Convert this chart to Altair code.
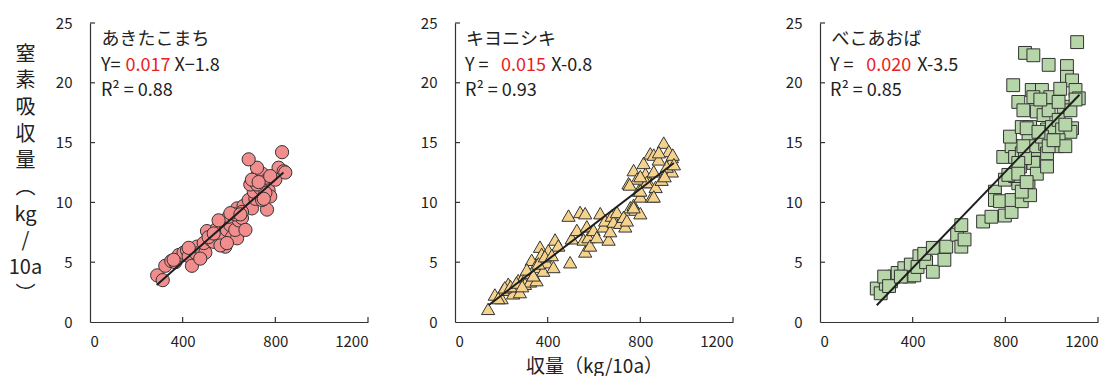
import altair as alt
import pandas as pd

# ---------------- data ----------------
akita_x = [290, 314, 325, 351, 368, 383, 404, 419, 426, 440, 455, 462, 484, 498, 491, 505, 519, 534,
           548, 570, 584, 563, 577, 591, 606, 613, 635, 627, 642, 656, 635, 663, 685, 699, 714, 728,
           707, 692, 721, 743, 750, 764, 771, 778, 764, 743, 721, 685, 814, 836, 829, 800, 671, 599,
           555, 627, 656, 735, 757, 721, 750, 512, 534, 606, 649, 591, 476, 361, 426, 699, 728, 778, 843]
akita_y = [3.9, 3.5, 4.7, 5.1, 5.0, 5.6, 5.8, 6.0, 5.5, 4.7, 5.8, 6.3, 6.0, 5.8, 6.6, 7.6, 6.9, 6.7,
           7.8, 7.1, 6.3, 6.4, 8.3, 7.7, 8.1, 7.1, 7.0, 7.7, 8.5, 8.7, 9.5, 9.7, 10.2, 9.5, 10.3, 10.8,
           10.9, 11.5, 12.2, 12.4, 11.6, 11.9, 11.0, 10.5, 9.4, 10.2, 12.9, 13.6, 12.9, 12.6, 14.2, 11.9, 7.7, 8.8,
           8.5, 9.0, 9.2, 11.2, 10.8, 11.5, 10.3, 7.1, 7.4, 9.1, 9.0, 6.6, 5.3, 5.2, 6.2, 11.9, 11.7, 12.2, 12.5]

kiyo_x = [143, 172, 201, 208, 230, 251, 259, 273, 280, 295, 302, 316, 324, 331, 345, 352, 367, 374,
          381, 403, 396, 425, 432, 446, 490, 497, 504, 526, 540, 555, 562, 562, 569, 576, 583, 598,
          612, 627, 641, 648, 663, 670, 677, 684, 699, 713, 728, 735, 742, 757, 771, 778, 800, 800,
          749, 771, 786, 793, 814, 822, 836, 843, 850, 901, 858, 923, 936, 930, 936, 858, 827, 866,
          858, 771, 892, 914, 879, 800, 754, 800, 187, 215, 240, 265, 290, 310, 338, 360, 388, 418,
          940, 945, 905, 880]
kiyo_y = [1.1, 2.3, 2.0, 2.7, 3.2, 2.4, 3.0, 3.5, 2.5, 3.8, 3.2, 4.1, 3.4, 5.2, 4.6, 3.5, 6.3, 5.7,
          4.3, 6.0, 5.0, 4.6, 6.9, 6.4, 8.9, 5.0, 7.0, 7.7, 9.2, 6.9, 9.1, 5.9, 8.0, 7.1, 6.4, 7.7,
          7.1, 9.1, 8.0, 8.5, 6.9, 7.6, 8.9, 8.4, 9.2, 8.3, 8.8, 8.0, 8.5, 9.6, 9.8, 9.4, 9.1, 10.5,
          11.6, 12.7, 12.0, 11.0, 13.3, 12.4, 11.7, 14.1, 10.5, 15.0, 14.0, 14.3, 13.8, 13.3, 12.6, 12.6, 11.7, 11.3,
          10.5, 9.6, 11.9, 13.0, 13.6, 12.2, 11.5, 11.0, 2.0, 2.9, 3.0, 3.3, 3.0, 4.4, 3.9, 4.9, 5.5, 5.6,
          14.0, 13.2, 12.2, 14.2]

beko_x = [245, 262, 284, 306, 320, 335, 364, 385, 407, 392, 429, 421, 458, 450, 487, 487, 537, 545,
          277, 298, 349, 592, 610, 610, 624, 704, 740, 755, 755, 777, 798, 827, 827, 871, 856, 900,
          907, 798, 791, 827, 820, 842, 863, 871, 871, 856, 834, 885, 921, 987, 1110, 914, 958, 921,
          936, 907, 900, 929, 921, 936, 929, 965, 980, 972, 980, 980, 994, 987, 1001, 1023, 1030, 1045,
          1066, 1066, 1088, 1103, 1117, 1037, 1052, 1081, 1088, 1081, 1030, 1059, 958, 892, 878, 951,
          1030, 943, 885, 856, 842, 813, 878, 987, 1008, 1059, 1103, 856, 871, 892]
beko_y = [2.8, 2.4, 3.2, 3.4, 3.8, 4.1, 4.5, 3.8, 3.9, 4.8, 5.5, 4.6, 5.0, 5.7, 4.2, 6.2, 5.2, 6.3,
          3.8, 3.0, 3.8, 7.3, 8.1, 6.3, 6.9, 8.4, 8.8, 10.9, 10.2, 10.1, 8.9, 9.2, 10.2, 10.1, 11.6, 11.3,
          10.6, 11.9, 13.8, 14.7, 15.5, 13.8, 13.0, 14.1, 16.3, 18.4, 19.8, 22.5, 22.3, 21.5, 23.4, 19.4, 19.4, 18.8,
          17.6, 16.3, 15.2, 14.4, 13.3, 12.4, 14.7, 17.3, 16.1, 14.9, 14.1, 13.0, 18.8, 17.7, 16.3, 14.7, 16.9, 16.1,
          21.4, 20.5, 20.2, 19.4, 18.7, 19.5, 18.0, 17.7, 16.2, 15.9, 15.2, 14.7, 15.5, 16.2, 17.7, 18.6,
          18.4, 15.9, 13.7, 13.3, 12.2, 12.3, 14.7, 14.7, 15.2, 16.5, 18.6, 12.4, 10.9, 11.7]

akita_line_x = [288, 835]
akita_line_y = [3.1, 12.5]
kiyo_line_x = [145, 945]
kiyo_line_y = [1.4, 13.3]
beko_line_x = [245, 1120]
beko_line_y = [1.4, 19.0]

x_labels = [0, 400, 800, 1200]
y_labels = [0, 5, 10, 15, 20, 25]
x_ticks = [400, 800, 1200]
y_ticks = [5, 10, 15, 20, 25]

# ---------------- style ----------------
W, H = 278, 299
FONT = "Noto Sans CJK JP"
RED = "#e8231f"

xs = alt.Scale(domain=[0, 1200], nice=False, zero=False)
ys = alt.Scale(domain=[0, 25], nice=False, zero=False)


def panel(px, py, lx, ly, shape, fill, size, ann, y_title=None, x_title=None):
    pts = pd.DataFrame({"x": px, "y": py})
    ln = pd.DataFrame({"x": lx, "y": ly})

    xaxis_kw = dict(values=x_labels, format="d", ticks=False, tickSize=0, grid=False, domainColor="#333",
                    domainWidth=1.2, labelFont=FONT, labelFontSize=15, labelColor="#222",
                    labelPadding=12, labelOverlap=False)
    yaxis_kw = dict(values=y_labels, format="d", ticks=False, tickSize=0, grid=False, domainColor="#333",
                    domainWidth=1.2, labelFont=FONT, labelFontSize=15, labelColor="#222",
                    labelPadding=18, labelOverlap=False)
    if x_title:
        xaxis_kw.update(title=x_title, titleFont=FONT, titleFontSize=19, titleFontWeight="normal",
                        titleColor="#222", titleBaseline="middle", titleY=44)
    else:
        xaxis_kw.update(title=None)
    if y_title:
        yaxis_kw.update(title=y_title, titleFont=FONT, titleFontSize=20, titleFontWeight="normal",
                        titleColor="#222", titleAngle=0, titleAlign="center", titleBaseline="top",
                        titleX=-65, titleY=21, titleLineHeight=26.7)
    else:
        yaxis_kw.update(title=None)

    base_x = alt.X("x:Q", scale=xs, axis=alt.Axis(**xaxis_kw))
    base_y = alt.Y("y:Q", scale=ys, axis=alt.Axis(**yaxis_kw))

    points = alt.Chart(pts).mark_point(shape=shape, filled=True, fill=fill, stroke="#333",
                                        strokeWidth=1, size=size, opacity=1).encode(x=base_x, y=base_y)
    line = alt.Chart(ln).mark_line(color="#1e1e1e", strokeWidth=2).encode(
        x=alt.X("x:Q", scale=xs), y=alt.Y("y:Q", scale=ys))

    xt = alt.Chart(pd.DataFrame({"x": x_ticks})).mark_rule(color="#333", strokeWidth=1.2).encode(
        x=alt.X("x:Q", scale=xs), y=alt.value(H), y2=alt.value(H - 5))
    yt = alt.Chart(pd.DataFrame({"y": y_ticks})).mark_rule(color="#333", strokeWidth=1.2).encode(
        y=alt.Y("y:Q", scale=ys), x=alt.value(0), x2=alt.value(5))

    ann_df = pd.DataFrame(ann, columns=["t", "x", "y", "c", "s"])
    texts = alt.Chart(ann_df).mark_text(align="left", baseline="middle", font=FONT).encode(
        x=alt.X("x:Q", scale=xs), y=alt.Y("y:Q", scale=ys), text="t:N",
        color=alt.Color("c:N", scale=None), size=alt.Size("s:Q", scale=None))

    return alt.layer(points, line, xt, yt, texts).properties(width=W, height=H)


p1 = panel(akita_x, akita_y, akita_line_x, akita_line_y, "circle", "#f28d8e", 175,
           [["あきたこまち", 50, 23.6, "#222", 18],
            ["Y=", 47, 21.4, "#222", 18],
            ["0.017", 153, 21.4, RED, 18],
            ["X−1.8", 365, 21.4, "#222", 18],
            ["R² =  0.88", 47, 19.3, "#222", 18]],
           y_title=["窒", "素", "吸", "収", "量", "︵", "kg", "/", "10a", "︶"])
p2 = panel(kiyo_x, kiyo_y, kiyo_line_x, kiyo_line_y, "triangle-up", "#f6d38c", 175,
           [["キヨニシキ", 48, 23.6, "#222", 18],
            ["Y =", 43, 21.4, "#222", 18],
            ["0.015", 199, 21.4, RED, 18],
            ["X-0.8", 415, 21.4, "#222", 18],
            ["R² =  0.93", 43, 19.3, "#222", 18]],
           x_title="収量（kg/10a）")
p3 = panel(beko_x, beko_y, beko_line_x, beko_line_y, "square", "#b6d5a9", 165,
           [["べこあおば", 50, 23.6, "#222", 18],
            ["Y =", 43, 21.4, "#222", 18],
            ["0.020", 200, 21.4, RED, 18],
            ["X-3.5", 420, 21.4, "#222", 18],
            ["R² =  0.85", 43, 19.3, "#222", 18]])

chart = alt.hconcat(p1, p2, p3, spacing=87, bounds="flush").configure_view(stroke=None).properties(
    padding={"left": 0, "top": 8, "right": 0, "bottom": 0}, background="white")

chart.save("out.html", embed_options={"renderer": "svg", "actions": False})
